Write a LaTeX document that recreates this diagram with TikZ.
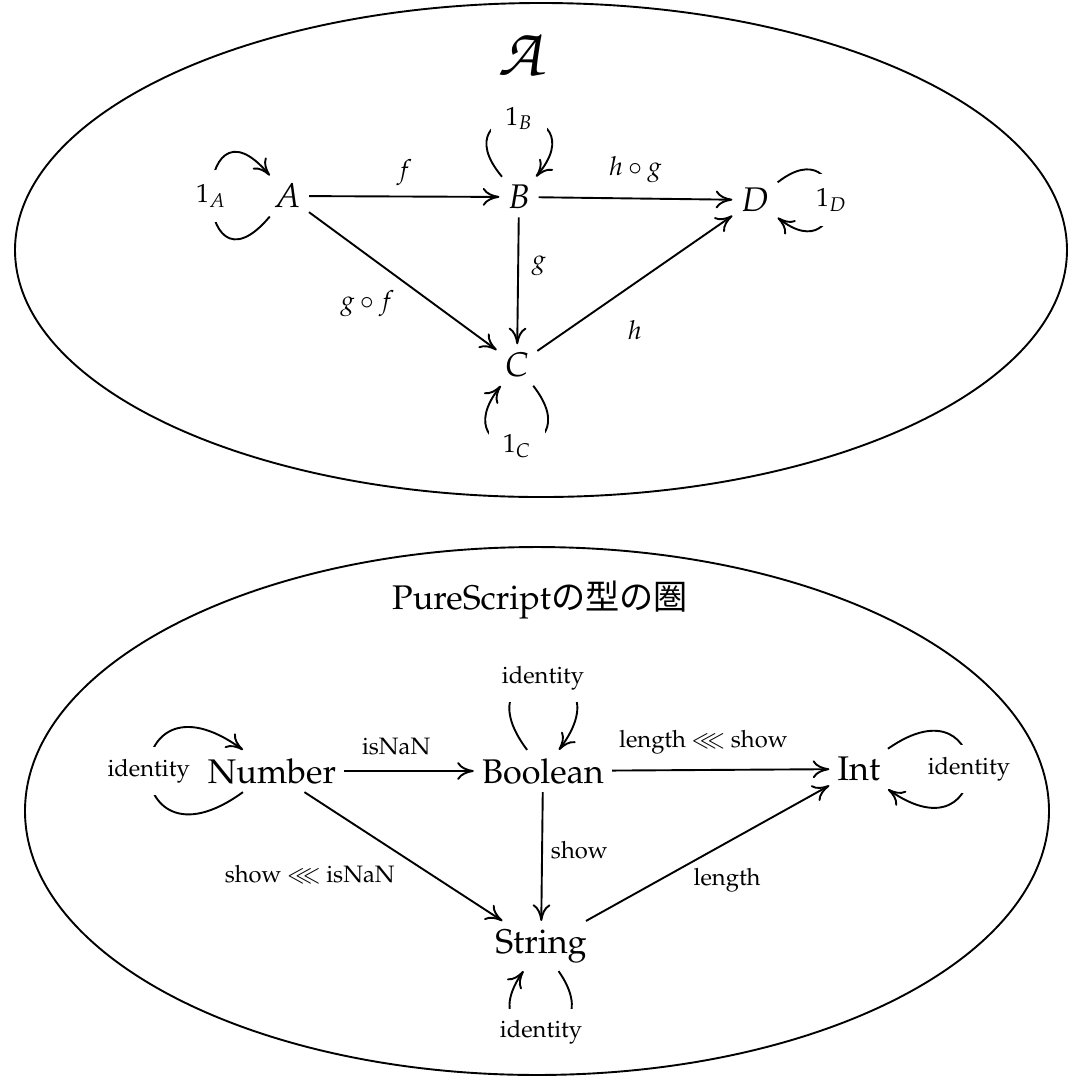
\documentclass[tikz,border=0pt]{standalone}
\usepackage{fontspec}
\newfontfamily\jpfont{Noto Sans CJK JP}
\usepackage[T1]{fontenc}
\usepackage{mathpazo}
\usepackage{amssymb}
\usetikzlibrary{arrows.meta}
\newcommand{\chancery}{\usefont{T1}{pzc}{mb}{it}}
\tikzset{
  obj/.style={font=\Large},
  lab/.style={font=\normalsize},
  toplab/.style={font=\fontsize{11}{13}\selectfont},
  mor/.style={line width=0.8pt, -{Computer Modern Rightarrow[length=7pt,width=7.5pt]}},
  idlab/.style={fill=white, inner sep=5pt, font=\normalsize},
  topid/.style={fill=white, inner sep=6pt, font=\fontsize{11}{13}\selectfont},
  cat/.style={line width=0.8pt}
}

\begin{document}
\begin{tikzpicture}[x=0.0148cm,y=-0.0148cm]
  \useasboundingbox (0,0) rectangle (1074,1082);
  % the category A
  \draw[cat] (541,250) ellipse [x radius=7.785cm, y radius=3.656cm];
  \node[] (calA) at (520,55) {\fontsize{29}{31}\chancery A};
  \node[obj] (A) at (287,196) {$A$};
  \node[obj] (B) at (519,197) {$B$};
  \node[obj] (C) at (517,365) {$C$};
  \node[obj] (D) at (755,200) {$D$};
  \draw[mor] (A) -- node[toplab, above=1pt] (f) {$f$} (B);
  \draw[mor] (B) -- node[toplab, above=3pt] (hg) {$h\circ g$} (D);
  \draw[mor] (B) -- node[toplab, pos=0.38, right=2pt] (g) {$g$} (C);
  \draw[mor] (A) -- node[toplab, below left] (gf) {$g\circ f$} (C);
  \draw[mor] (C) -- node[toplab, below=12pt] (h) {$h$} (D);
  \draw[mor] (A) to[out=230, in=130, distance=1.8cm] node[topid] (idA) {$1_A$} (A);
  \draw[mor] (B) to[out=130, in=50, distance=1.5cm] node[topid] (idB) {$1_B$} (B);
  \draw[mor] (C) to[out=-52, in=-128, distance=1.5cm] node[topid] (idC) {$1_C$} (C);
  \draw[mor] (D) to[out=38, in=-38, distance=1.35cm] node[topid] (idD) {$1_D$} (D);
  % the category of PureScript types
  \draw[cat] (537,811) ellipse [x radius=7.578cm, y radius=3.907cm];
  \node[font=\Large] (title) at (540,600) {PureScript{\jpfont の型の圏}};
  \node[obj] (num) at (272,771) {Number};
  \node[obj] (bool) at (543,771) {Boolean};
  \node[obj] (int) at (859,769) {Int};
  \node[obj] (str) at (541,946) {String};
  \draw[mor] (num) -- node[lab, pos=0.4, above=3pt] (isnan) {isNaN} (bool);
  \draw[mor] (bool) -- node[lab, pos=0.42, above=3pt] (lenshow) {length $\lll$ show} (int);
  \draw[mor] (bool) -- node[lab, pos=0.45, right] (show) {show} (str);
  \draw[mor] (num) -- node[lab, below left] (showisnan) {show $\lll$ isNaN} (str);
  \draw[mor] (str) -- node[lab, pos=0.58, below=7pt] (len) {length} (int);
  \draw[mor] (num) to[out=216, in=144, distance=2.3cm] node[idlab] (idnum) {identity} (num);
  \draw[mor] (bool) to[out=127, in=53, distance=1.78cm] node[idlab] (idbool) {identity} (bool);
  \draw[mor] (str) to[out=-55, in=-125, distance=1.48cm] node[idlab] (idstr) {identity} (str);
  \draw[mor] (int) to[out=35, in=-35, distance=1.95cm] node[idlab] (idint) {identity} (int);
\end{tikzpicture}
\end{document}
